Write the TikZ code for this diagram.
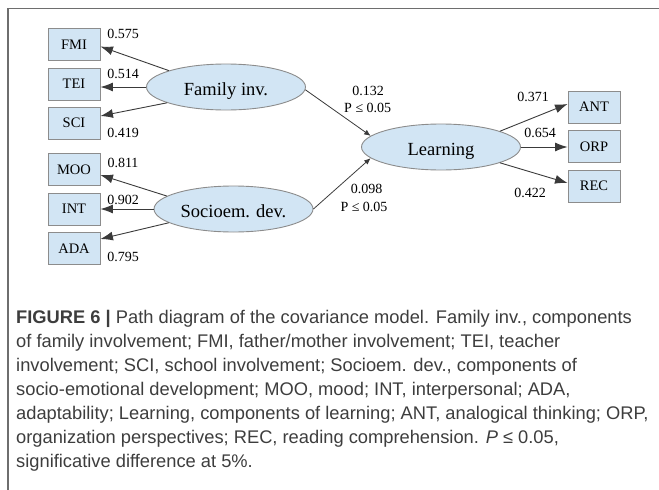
\documentclass[tikz,border=0pt]{standalone}
\usepackage{fontspec}
\setmainfont{Liberation Serif}
\newfontfamily\capfont{Liberation Sans}
\usetikzlibrary{arrows.meta,calc,shapes.geometric}
\definecolor{boxfill}{HTML}{D2E5F4}
\definecolor{boxline}{HTML}{8C8C8C}
\definecolor{arrowc}{HTML}{3A3A3A}
\definecolor{captext}{HTML}{3D3D3D}
\definecolor{framec}{HTML}{6E6E6E}
\begin{document}
\begin{tikzpicture}[x=1pt,y=-1pt,
  ind/.style={rectangle, draw=boxline, line width=0.9pt, fill=boxfill, minimum width=52pt, minimum height=32pt, inner sep=0pt, font=\fontsize{14.5}{16}\selectfont},
  lat/.style={ellipse, draw=boxline, line width=0.9pt, fill=boxfill, minimum width=159pt, minimum height=46pt, inner sep=0pt, text height=16.6pt, text depth=0pt, font=\fontsize{18.5}{20}\selectfont},
  num/.style={inner sep=0pt, font=\fontsize{14}{16}\selectfont},
  load/.style={draw=arrowc, line width=0.9pt, -{Latex[length=12.5pt,width=9pt]}},
  struct/.style={draw=arrowc, line width=0.8pt, -{Latex[length=6.5pt,width=5.5pt]}},
  capline/.style={anchor=base west, inner sep=0pt, text=captext, font=\capfont\fontsize{18.3}{22}\selectfont}
]
\useasboundingbox (0,0) rectangle (659,490);
% frame
\coordinate (ftr) at (659,8.5);
\coordinate (ftl) at (8,8.5);
\coordinate (fbl) at (8,490);
\draw[framec, line width=1.3pt] (ftr) -- (ftl) -- (fbl);

% indicator boxes
\node[ind] (fmi) at (74,44.5) {FMI};
\node[ind] (tei) at (74,84) {TEI};
\node[ind] (sci) at (74,123) {SCI};
\node[ind] (moo) at (74,169.5) {MOO};
\node[ind] (int) at (74,209) {INT};
\node[ind] (ada) at (74,248.5) {ADA};
\node[ind] (ant) at (594,107) {ANT};
\node[ind] (orp) at (594,146.5) {ORP};
\node[ind] (rec) at (594,186) {REC};

% latent ellipses
\node[lat] (fam) at (226,87) {Family inv.};
\node[lat] (soc) at (233.5,209) {Socioem. dev.};
\node[lat] (learn) at (441,147) {Learning};

% loadings
\draw[load] (fam.164) -- ($(fmi.east)+(0,2)$);
\draw[load] (fam.west) -- (fam.west -| tei.east);
\draw[load] (fam.195) -- ($(sci.east)+(0,-7)$);
\draw[load] (soc.169) -- ($(moo.east)+(0,5.5)$);
\draw[load] (soc.west) -- (soc.west -| int.east);
\draw[load] (soc.192) -- ($(ada.east)+(0,-9.5)$);
\draw[load] (learn.15) -- ($(ant.west)+(0,-3)$);
\draw[load] (learn.east) -- (learn.east -| orp.west);
\draw[load] (learn.-15) -- ($(rec.west)+(0,-3)$);

% structural paths
\draw[struct] (fam.-2) -- (learn.171);
\draw[struct] (soc.east) -- (learn.189);

% numbers
\node[num] (l1) at (123,34) {0.575};
\node[num] (l2) at (123,74) {0.514};
\node[num] (l3) at (123,133) {0.419};
\node[num] (l4) at (123,163) {0.811};
\node[num] (l5) at (123,200) {0.902};
\node[num] (l6) at (123,257) {0.795};
\node[num] (l7) at (533,96.7) {0.371};
\node[num] (l8) at (540,133) {0.654};
\node[num] (l9) at (530,192.7) {0.422};
\node[num] (p1) at (368,90.7) {0.132};
\node[num] (p2) at (367.7,108) {P ≤ 0.05};
\node[num] (p3) at (366.7,189) {0.098};
\node[num] (p4) at (364,207) {P ≤ 0.05};

% caption
\node[capline] (c1) at (16,323) {\textbf{FIGURE 6 |} Path diagram of the covariance model. Family inv., components};
\node[capline] (c2) at (16,347) {of family involvement; FMI, father/mother involvement; TEI, teacher};
\node[capline] (c3) at (16,371) {involvement; SCI, school involvement; Socioem. dev., components of};
\node[capline] (c4) at (16,395) {socio-emotional development; MOO, mood; INT, interpersonal; ADA,};
\node[capline] (c5) at (16,419) {adaptability; Learning, components of learning; ANT, analogical thinking; ORP,};
\node[capline] (c6) at (16,443) {organization perspectives; REC, reading comprehension. \textit{P} ≤ 0.05,};
\node[capline] (c7) at (16,467) {significative difference at 5\%.};
\end{tikzpicture}
\end{document}
